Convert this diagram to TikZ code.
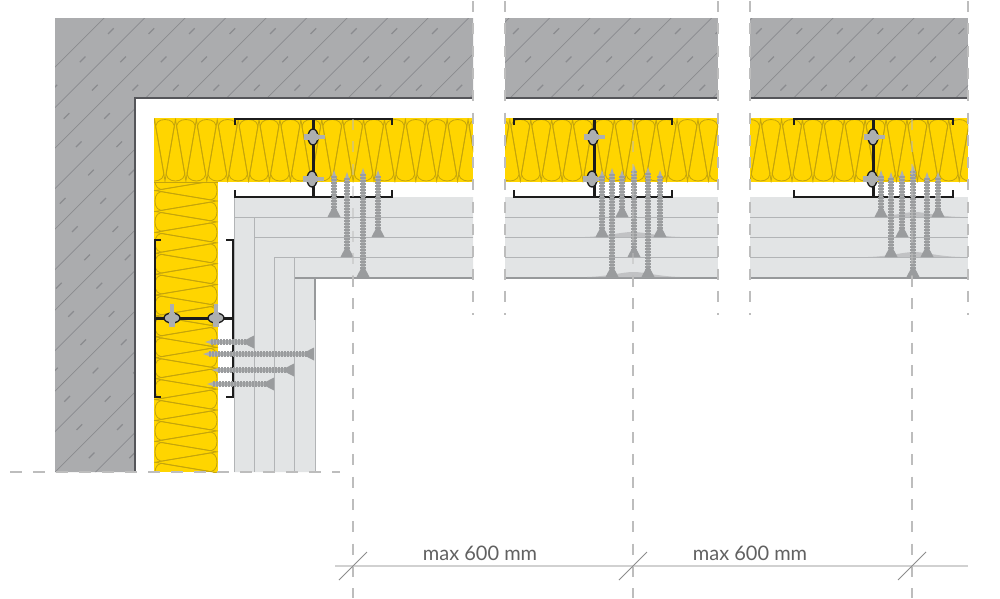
\documentclass[tikz,border=0pt]{standalone}
\usepackage{fontspec}
\setmainfont{Lato}
\definecolor{wallc}{HTML}{ABACAE}
\definecolor{hatchc}{HTML}{8A8B8F}
\definecolor{edgec}{HTML}{55565A}
\definecolor{wool}{HTML}{FFD500}
\definecolor{woolline}{HTML}{C4A40C}
\definecolor{boardc}{HTML}{E2E4E5}
\definecolor{boardl}{HTML}{B2B4B6}
\definecolor{steel}{HTML}{1C1C1C}
\definecolor{screwc}{HTML}{ADAFB0}
\definecolor{screwd}{HTML}{9A9C9E}
\definecolor{dashc}{HTML}{BDBDBD}
\tikzset{
  woolstroke/.style={draw=woolline,line width=.8pt},
  boardline/.style={draw=boardl,line width=1pt},
  cutdash/.style={draw=dashc,line width=1.6pt,dash pattern=on 11pt off 11.3pt},
  faintdash/.style={draw=dashc,line width=1.2pt,opacity=.5,dash pattern=on 11pt off 11.3pt},
  steelline/.style={draw=steel,line width=1.7pt},
  webline/.style={draw=steel,line width=3pt},
}
% horizontal section of wool
\newcommand\woolH[2]{%
  \fill[wool] (#1,118) rectangle (#2,182);
  \begin{scope}
    \clip (#1,118) rectangle (#2,182);
    \foreach \k in {0,...,40}{
      \pgfmathsetmacro\xa{144.1+20.9*\k}
      \pgfmathsetmacro\xb{\xa+10.45}
      \draw[woolstroke] (\xa,181) -- (\xa+8.7,130) .. controls (\xa+11,123) and (\xa+6,119.5) .. (\xa,119.5) .. controls (\xa-6,119.5) and (\xa-11,123) .. (\xa-8.7,130) -- cycle;
      \draw[woolstroke] (\xb,119.5) -- (\xb+8.7,170) .. controls (\xb+11,177) and (\xb+6,181) .. (\xb,181) .. controls (\xb-6,181) and (\xb-11,177) .. (\xb-8.7,170) -- cycle;
    }
  \end{scope}
}
\newcommand\profH[3]{%
  \draw[steelline] (#1,125) -- (#1,119) -- (#2,119) -- (#2,125);
  \draw[steelline] (#1,190) -- (#1,197) -- (#2,197) -- (#2,190);
  \draw[webline] (#3,119) -- (#3,197);
}
\newcommand\fixH[2]{% bolt on a vertical web
  \draw[steel,line width=1.3pt,fill=screwc] (#1,#2) ellipse (5pt and 8pt);
  \fill[screwc] (#1-9,#2-3) rectangle (#1+5,#2+3);
  \fill[screwc] (#1+4,#2-1.7) rectangle (#1+12,#2+1.7);
}
\newcommand\fixV[2]{% bolt on a horizontal web
  \draw[steel,line width=1.3pt,fill=screwc] (#1,#2) ellipse (8pt and 5pt);
  \fill[screwc] (#1-3,#2-5) rectangle (#1+3,#2+9);
  \fill[screwc] (#1-1.7,#2-14) rectangle (#1+1.7,#2-4);
}
\newcommand\screwV[3]{%
  \fill[screwc] (#1-2,#3-6) -- (#1-2,#2+6) -- (#1,#2) -- (#1+2,#2+6) -- (#1+2,#3-6) -- cycle;
  \draw[screwd,line width=5.6pt,dash pattern=on 1.8pt off 1.2pt] (#1,#2+6) -- (#1,#3-7);
  \fill[screwd] (#1-1.8,#3-9) -- (#1+1.8,#3-9) -- (#1+6.5,#3) -- (#1-6.5,#3) -- cycle;
}
\newcommand\screwH[3]{%
  \fill[screwc] (#3-6,#1-2) -- (#2+6,#1-2) -- (#2,#1) -- (#2+6,#1+2) -- (#3-6,#1+2) -- cycle;
  \draw[screwd,line width=5.6pt,dash pattern=on 1.8pt off 1.2pt] (#2+6,#1) -- (#3-7,#1);
  \fill[screwd] (#3-9,#1-1.8) -- (#3-9,#1+1.8) -- (#3,#1+6.5) -- (#3,#1-6.5) -- cycle;
}
\newcommand\hump[3]{%
  \fill[boardl!70!boardc] (#1,#3) .. controls (#1+25,#3-1) and (#1+35,#3-5) .. ({(#1+#2)/2},#3-5) .. controls (#2-35,#3-5) and (#2-25,#3-1) .. (#2,#3) -- cycle;
}
\newcommand\boardsH[2]{%
  \fill[boardc] (#1,197) rectangle (#2,278);
  \foreach \yy in {217,237,257}{\draw[boardline] (#1,\yy) -- (#2,\yy);}
  \draw[draw=boardl!85!black,line width=1.2pt] (#1,278) -- (#2,278);
}
\begin{document}
\begin{tikzpicture}[x=1pt,y=-1pt]
\useasboundingbox (0,0) rectangle (1000,598);
\fill[white] (0,0) rectangle (1000,598);
% concrete walls
\fill[wallc] (55,18) -- (473,18) -- (473,98) -- (135,98) -- (135,472) -- (55,472) -- cycle;
\fill[wallc] (505,18) rectangle (718,98);
\fill[wallc] (750,18) rectangle (968,98);
\begin{scope}
  \clip (55,18) -- (473,18) -- (473,98) -- (135,98) -- (135,472) -- (55,472) -- cycle
        (505,18) rectangle (718,98) (750,18) rectangle (968,98);
  \foreach \k in {0,...,27}{
    \pgfmathsetmacro\ss{122+40.5*\k}
    \draw[hatchc,line width=.7pt] (\ss,0) -- (\ss-600,600);
    \pgfmathsetmacro\st{\ss+20}
    \draw[hatchc,line width=1.1pt,dash pattern=on 8pt off 32pt] (\st,0) -- (\st-600,600);
  }
\end{scope}
\draw[edgec,line width=2pt] (135,472) -- (135,98) -- (473,98);
\draw[edgec,line width=2pt] (505,98) -- (718,98);
\draw[edgec,line width=2pt] (750,98) -- (968,98);
% boards at the corner
\fill[boardc] (234,472) -- (234,197) -- (473,197) -- (473,278) -- (315,278) -- (315,472) -- cycle;
\draw[boardline] (473,217) -- (234,217);
\draw[boardline] (473,237) -- (254,237) -- (254,217);
\draw[boardline] (254,237) -- (254,472);
\draw[boardline] (473,257) -- (274,257) -- (274,472);
\draw[draw=boardl!85!black,line width=1.2pt] (473,278) -- (294,278);
\draw[boardline] (294,257) -- (294,472);
\draw[draw=boardl!85!black,line width=1.2pt] (315,278) -- (315,320);
\draw[boardline] (315,320) -- (315,472);
\draw[boardline] (234,197) -- (234,472);
\boardsH{505}{718}
\boardsH{750}{968}
% wool
\woolH{154}{473}
\woolH{505}{718}
\woolH{750}{968}
\fill[wool] (154,182) rectangle (218,472);
\begin{scope}
  \clip (154,182) rectangle (218,472);
  \foreach \k in {-1,...,14}{
    \pgfmathsetmacro\ya{201+20.9*\k}
    \pgfmathsetmacro\yb{\ya+10.45}
    \draw[woolstroke] (217,\ya) -- (165,\ya+8.7) .. controls (158,\ya+11) and (155,\ya+6) .. (155,\ya) .. controls (155,\ya-6) and (158,\ya-11) .. (165,\ya-8.7) -- cycle;
    \draw[woolstroke] (155,\yb) -- (207,\yb+8.7) .. controls (214,\yb+11) and (217,\yb+6) .. (217,\yb) .. controls (217,\yb-6) and (214,\yb-11) .. (207,\yb-8.7) -- cycle;
  }
\end{scope}
\draw[woolstroke] (154,182.5) -- (218,182.5);
% humps under the screw heads
\hump{585}{680}{237}
\hump{587}{680}{277}
\hump{870}{960}{217}
\hump{868}{960}{257}
% steel profiles
\profH{235}{392}{313}
\profH{514}{672}{594}
\profH{794}{953}{873}
\draw[steelline] (161,240) -- (155,240) -- (155,397) -- (161,397);
\draw[steelline] (226,240) -- (233,240) -- (233,397) -- (226,397);
\draw[webline] (155,318) -- (233,318);
\fixH{313}{137}\fixH{312}{179}
\fixH{593}{137}\fixH{592}{179}
\fixH{873}{137}\fixH{872}{179}
\fixV{172}{318}\fixV{216}{318}
% screws
\screwV{334}{170}{217}\screwV{347}{172}{257}\screwV{363}{168}{277}\screwV{378}{170}{237}
\screwV{602}{170}{237}\screwV{612}{168}{277}\screwV{622}{170}{217}\screwV{634}{165}{257}\screwV{648}{167}{277}\screwV{660}{170}{237}
\screwV{881}{170}{217}\screwV{891}{172}{257}\screwV{902}{170}{237}\screwV{913}{165}{277}\screwV{927}{172}{257}\screwV{938}{172}{217}
\screwH{342}{205}{254}\screwH{354}{203}{314}\screwH{370}{212}{294}\screwH{384}{207}{274}
% cut lines
\foreach \xx in {473,505,718,750,968}{\draw[cutdash] (\xx,1) -- (\xx,315);}
\foreach \xx in {353,633,912}{
  \draw[faintdash] (\xx,119) -- (\xx,276);
  \draw[cutdash] (\xx,276) -- (\xx,598);
}
\draw[draw=dashc,line width=1.6pt,dash pattern=on 12pt off 11pt] (10,472) -- (340,472);
% dimension line
\draw[draw=black!18,line width=2pt] (335,566) -- (968,566);
\foreach \xx in {353,633,912}{\draw[draw=black!45,line width=.9pt] (\xx-14,580) -- (\xx+14,552);}
\node[text=black!62,font=\fontsize{20}{24}\selectfont] (dimA) at (480,553) {max 600 mm};
\node[text=black!62,font=\fontsize{20}{24}\selectfont] (dimB) at (750,553) {max 600 mm};
\end{tikzpicture}
\end{document}
